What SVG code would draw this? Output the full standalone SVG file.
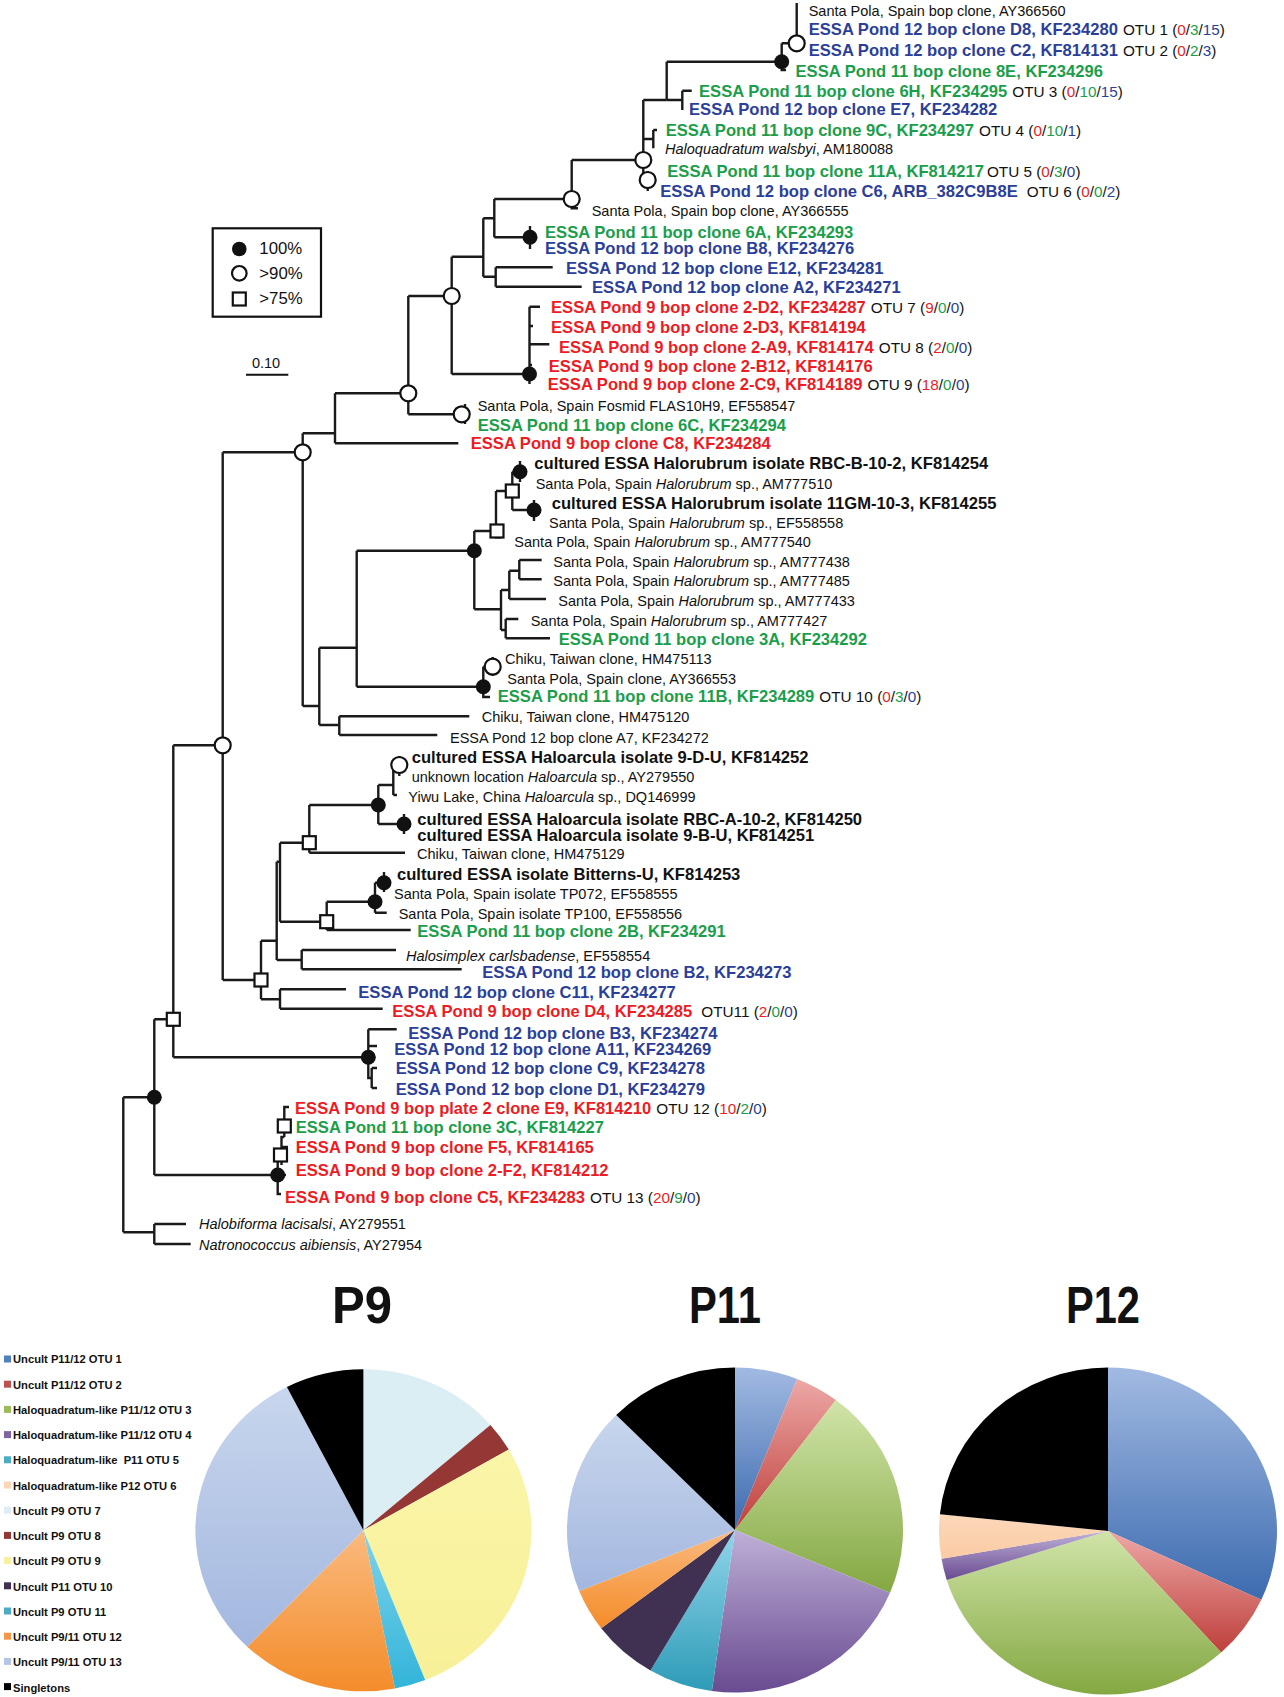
<svg xmlns="http://www.w3.org/2000/svg" width="1284" height="1697" viewBox="0 0 1284 1697">
<style>
text{font-family:"Liberation Sans",Arial,Helvetica,sans-serif}
.L{font-weight:bold;font-size:16.6px}
.g{fill:#1B9E4B}.bu{fill:#2B3F9A}.rd{fill:#ED1C24}.k{fill:#111}
.n{font-size:14.5px;fill:#111}
.ot{font-weight:normal;font-size:15.3px;fill:#111}
.nr{fill:#ED1C24}.ng{fill:#1B9E4B}.nb{fill:#2B3F9A}
.br path{fill:none;stroke:#1a1a1a;stroke-width:2.4}
.fc{fill:#111}
.oc{fill:#fff;stroke:#111;stroke-width:2.2}
.sq{fill:#fff;stroke:#111;stroke-width:2.2}
.lg{font-size:16.8px;fill:#111}
.pl{font-weight:bold;font-size:11.2px;fill:#111}
.pt{font-weight:bold;font-size:51px;fill:#111;text-anchor:middle}
</style>
<defs>
<linearGradient id="c1" x1="0" y1="0" x2="0" y2="1"><stop offset="0" stop-color="#A2BAE2"/><stop offset="1" stop-color="#3C6BAF"/></linearGradient>
<linearGradient id="c2" x1="0" y1="0" x2="0" y2="1"><stop offset="0" stop-color="#EDA8A6"/><stop offset="1" stop-color="#BE3F3B"/></linearGradient>
<linearGradient id="c3" x1="0" y1="0" x2="0" y2="1"><stop offset="0" stop-color="#D0E4A8"/><stop offset="1" stop-color="#84A842"/></linearGradient>
<linearGradient id="c4" x1="0" y1="0" x2="0" y2="1"><stop offset="0" stop-color="#BEB0D7"/><stop offset="1" stop-color="#694B91"/></linearGradient>
<linearGradient id="c5" x1="0" y1="0" x2="0" y2="1"><stop offset="0" stop-color="#90D5EA"/><stop offset="1" stop-color="#2E9BB7"/></linearGradient>
<linearGradient id="c6" x1="0" y1="0" x2="0" y2="1"><stop offset="0" stop-color="#FCD8BA"/><stop offset="1" stop-color="#FACBA3"/></linearGradient>
<linearGradient id="c9" x1="0" y1="0" x2="0" y2="1"><stop offset="0" stop-color="#FAF5A8"/><stop offset="1" stop-color="#F8F098"/></linearGradient>
<linearGradient id="c11" x1="0" y1="0" x2="0" y2="1"><stop offset="0" stop-color="#7FD3EA"/><stop offset="1" stop-color="#33B4DA"/></linearGradient>
<linearGradient id="c12" x1="0" y1="0" x2="0" y2="1"><stop offset="0" stop-color="#FABA7E"/><stop offset="1" stop-color="#F48C2A"/></linearGradient>
<linearGradient id="c13" x1="0" y1="0" x2="0" y2="1"><stop offset="0" stop-color="#C8D6ED"/><stop offset="1" stop-color="#A3B7DF"/></linearGradient>
</defs>
<rect width="1284" height="1697" fill="#fff"/>

<g id="branches" class="br">
<path d="M123.3,1097.3V1232.3M123.3,1097.3H154.3M123.3,1232.3H154.3M154.3,1224V1244M154.3,1224H186M154.3,1244H190.7"/>
<path d="M154.3,1019.3V1175M154.3,1019.3H173.3M154.3,1175H277.7"/>
<path d="M277.7,1155V1194H281M277.7,1175H286M277.7,1155H281.5M281.5,1165V1137H284.3M281.5,1147H288M284.3,1137V1107H289M284.3,1127H291"/>
<path d="M173.3,745.3V1057.3M173.3,745.3H222.7M173.3,1057.3H368.3"/>
<path d="M368.3,1029.3V1078H371.7M371.7,1068V1088M371.7,1068H377M371.7,1088H377M368.3,1029.3H396.7M368.3,1046H377"/>
<path d="M222.7,452.3V980M222.7,452.3H302.7M222.7,980H261"/>
<path d="M261,940.7V999.3M261,940.7H276.7M261,999.3H280M280,989.3V1008.7M280,989.3H346M280,1008.7H382.7"/>
<path d="M276.7,861.7V960M276.7,861.7H280M276.7,960H301.7M301.7,950V969.3M301.7,950H396M301.7,969.3H461.7"/>
<path d="M280,842.7V921.7M280,842.7H309.3M280,921.7H326.7"/>
<path d="M309.3,805V852.7M309.3,805H378.3M309.3,852.7H405"/>
<path d="M378.3,785V824M378.3,785H393.3M393.3,767V795M393.3,767H399.3M393.3,795H397M399.3,756V776M378.3,824H404M404,814V834"/>
<path d="M326.7,901.7V930M326.7,901.7H375M326.7,930H410.7"/>
<path d="M375,882.7V912.7M375,882.7H384M375,912.7H386.7M384,872V892"/>
<path d="M302.7,433.3V706M302.7,433.3H335M302.7,706H319.3"/>
<path d="M319.3,647.7V725M319.3,647.7H356.7M319.3,725H339.3M339.3,716.3V735M339.3,716.3H469.3M339.3,735H437.3"/>
<path d="M356.7,550.7V686.7M356.7,550.7H474.3M356.7,686.7H483.3"/>
<path d="M474.3,531V609.3M474.3,531H496M474.3,609.3H501"/>
<path d="M496,491V537.3H501.7M496,491H512.3M512.3,471.7V510M512.3,471.7H520M512.3,510H534M520,461V482M534,500V521"/>
<path d="M501,590V630M501,590H509.3M509.3,570.7V599M509.3,570.7H519.3M519.3,560V579.3M519.3,560H541.7M519.3,579.3H541.7M509.3,599H546M501,630H505.7M505.7,619V638.3M505.7,619H518.3M505.7,638.3H550"/>
<path d="M483.3,666.7V697H490M483.3,666.7H492.7M492.7,657V676"/>
<path d="M335,393.3V443.3M335,393.3H408.3M335,443.3H458.3"/>
<path d="M408.3,296V414.3M408.3,296H451.7M408.3,414.3H461.7M465,404V424"/>
<path d="M451.7,256.7V374M451.7,256.7H483.3M451.7,374H528.3"/>
<path d="M529.5,306.7V384M529.5,306.7H540M529.5,344.3H549.3M529.5,326H533M529.5,365H532"/>
<path d="M483.3,218.3V276.7M483.3,218.3H494.3M483.3,276.7H495.7M495.7,267.3V286.7M495.7,267.3H552.7M495.7,286.7H581.7"/>
<path d="M494.3,199V237.3M494.3,199H571.7M494.3,237.3H530M530,226V249"/>
<path d="M571.7,160V208.3H578M571.7,160H643.3"/>
<path d="M643.3,100V180H647.7M643.3,100H666.7M643.3,139H653.3M653.3,130V148.3M653.3,130H657M647.7,171V191"/>
<path d="M666.7,61.7V100M666.7,61.7H781.7M666.7,100H682.3M682.3,90.7V110M682.3,90.7H691.7"/>
<path d="M781.7,43.3V70H786M781.7,43.3H796.7M796.7,3V52"/>
</g>

<g id="support-markers">
<g id="bs100" class="fc">
<circle cx="154.3" cy="1097.3" r="7.5"/><circle cx="277.7" cy="1175" r="7.5"/><circle cx="368.3" cy="1057.3" r="7.5"/>
<circle cx="378.3" cy="805" r="7.5"/><circle cx="404" cy="824" r="7.5"/><circle cx="375" cy="901.7" r="7.5"/>
<circle cx="384" cy="882.7" r="7.5"/><circle cx="474.3" cy="550.7" r="7.5"/><circle cx="520" cy="471.7" r="7.5"/>
<circle cx="534" cy="510" r="7.5"/><circle cx="483.3" cy="686.7" r="7.5"/><circle cx="529.5" cy="374" r="7.5"/>
<circle cx="530" cy="237.3" r="7.5"/><circle cx="781.7" cy="61.7" r="7.5"/>
</g>
<g id="bs90" class="oc">
<circle cx="222.7" cy="745.3" r="8"/><circle cx="302.7" cy="452.3" r="8"/><circle cx="408.3" cy="393.3" r="8"/>
<circle cx="451.7" cy="296" r="8"/><circle cx="461.7" cy="414.3" r="8"/><circle cx="571.7" cy="199" r="8"/>
<circle cx="643.3" cy="160" r="8"/><circle cx="647.7" cy="180" r="8"/><circle cx="796.7" cy="43.3" r="8"/>
<circle cx="492.7" cy="666.7" r="8"/><circle cx="399.3" cy="765" r="8"/>
</g>
<g id="bs75" class="sq">
<rect x="166.8" y="1012.8" width="13" height="13"/><rect x="254.5" y="973.5" width="13" height="13"/>
<rect x="302.8" y="836.2" width="13" height="13"/><rect x="320.2" y="915.2" width="13" height="13"/>
<rect x="490.5" y="524.5" width="13" height="13"/><rect x="505.8" y="484.5" width="13" height="13"/>
<rect x="274" y="1148.5" width="13" height="13"/><rect x="277.8" y="1119.5" width="13" height="13"/>
</g>
</g>

<g id="tree-legend">
<rect x="212.7" y="228.3" width="108.3" height="88.4" fill="none" stroke="#111" stroke-width="2.2"/>
<circle cx="239.3" cy="249" r="7.3" class="fc"/>
<circle cx="239.3" cy="273.3" r="7.3" class="oc"/>
<rect x="232.8" y="292.5" width="13" height="13" class="sq"/>
<text class="lg" x="259.3" y="253.5">100%</text>
<text class="lg" x="259.3" y="278.5">&gt;90%</text>
<text class="lg" x="259.3" y="303.7">&gt;75%</text>
</g>
<g id="scale-bar">
<text class="n" x="266" y="367.5" text-anchor="middle">0.10</text>
<path d="M246,374.7H288.3" stroke="#111" stroke-width="2"/>
</g>

<g id="leaves">
<g id="t1"><text class="n" x="808.7" y="16">Santa Pola, Spain bop clone, AY366560</text></g>
<g id="t2"><text class="L bu" x="808.7" y="35.2">ESSA Pond 12 bop clone D8, KF234280<tspan class="ot" dx="5">OTU 1 (<tspan class="nr">0</tspan>/<tspan class="ng">3</tspan>/<tspan class="nb">15</tspan>)</tspan></text></g>
<g id="t3"><text class="L bu" x="808.7" y="55.8">ESSA Pond 12 bop clone C2, KF814131<tspan class="ot" dx="5">OTU 2 (<tspan class="nr">0</tspan>/<tspan class="ng">2</tspan>/<tspan class="nb">3</tspan>)</tspan></text></g>
<g id="t4"><text class="L g" x="795.5" y="77">ESSA Pond 11 bop clone 8E, KF234296</text></g>
<g id="t5"><text class="L g" x="699" y="96.7">ESSA Pond 11 bop clone 6H, KF234295<tspan class="ot" dx="5">OTU 3 (<tspan class="nr">0</tspan>/<tspan class="ng">10</tspan>/<tspan class="nb">15</tspan>)</tspan></text></g>
<g id="t6"><text class="L bu" x="689" y="115.3">ESSA Pond 12 bop clone E7, KF234282</text></g>
<g id="t7"><text class="L g" x="665.7" y="136">ESSA Pond 11 bop clone 9C, KF234297<tspan class="ot" dx="5">OTU 4 (<tspan class="nr">0</tspan>/<tspan class="ng">10</tspan>/<tspan class="nb">1</tspan>)</tspan></text></g>
<g id="t8"><text class="n" x="665" y="154.2"><tspan font-style="italic">Haloquadratum walsbyi</tspan>, AM180088</text></g>
<g id="t9"><text class="L g" x="667.3" y="177">ESSA Pond 11 bop clone 11A, KF814217<tspan class="ot" dx="3">OTU 5 (<tspan class="nr">0</tspan>/<tspan class="ng">3</tspan>/<tspan class="nb">0</tspan>)</tspan></text></g>
<g id="t10"><text class="L bu" x="660.3" y="196.7">ESSA Pond 12 bop clone C6, ARB_382C9B8E<tspan class="ot" dx="9">OTU 6 (<tspan class="nr">0</tspan>/<tspan class="ng">0</tspan>/<tspan class="nb">2</tspan>)</tspan></text></g>
<g id="t11"><text class="n" x="591.7" y="216">Santa Pola, Spain bop clone, AY366555</text></g>
<g id="t12"><text class="L g" x="545" y="238.3">ESSA Pond 11 bop clone 6A, KF234293</text></g>
<g id="t13"><text class="L bu" x="545" y="254.3">ESSA Pond 12 bop clone B8, KF234276</text></g>
<g id="t14"><text class="L bu" x="566" y="274.3">ESSA Pond 12 bop clone E12, KF234281</text></g>
<g id="t15"><text class="L bu" x="592" y="293.3">ESSA Pond 12 bop clone A2, KF234271</text></g>
<g id="t16"><text class="L rd" x="551" y="313.3">ESSA Pond 9 bop clone 2-D2, KF234287<tspan class="ot" dx="5">OTU 7 (<tspan class="nr">9</tspan>/<tspan class="ng">0</tspan>/<tspan class="nb">0</tspan>)</tspan></text></g>
<g id="t17"><text class="L rd" x="551" y="333.3">ESSA Pond 9 bop clone 2-D3, KF814194</text></g>
<g id="t18"><text class="L rd" x="559" y="352.7">ESSA Pond 9 bop clone 2-A9, KF814174<tspan class="ot" dx="5">OTU 8 (<tspan class="nr">2</tspan>/<tspan class="ng">0</tspan>/<tspan class="nb">0</tspan>)</tspan></text></g>
<g id="t19"><text class="L rd" x="548.8" y="371.7">ESSA Pond 9 bop clone 2-B12, KF814176</text></g>
<g id="t20"><text class="L rd" x="547.7" y="390">ESSA Pond 9 bop clone 2-C9, KF814189<tspan class="ot" dx="5">OTU 9 (<tspan class="nr">18</tspan>/<tspan class="ng">0</tspan>/<tspan class="nb">0</tspan>)</tspan></text></g>
<g id="t21"><text class="n" x="477.7" y="411">Santa Pola, Spain Fosmid FLAS10H9, EF558547</text></g>
<g id="t22"><text class="L g" x="477.7" y="431">ESSA Pond 11 bop clone 6C, KF234294</text></g>
<g id="t23"><text class="L rd" x="470.7" y="448.7">ESSA Pond 9 bop clone C8, KF234284</text></g>
<g id="t24"><text class="L k" x="534.3" y="469.3">cultured ESSA Halorubrum isolate RBC-B-10-2, KF814254</text></g>
<g id="t25"><text class="n" x="535.7" y="488.5">Santa Pola, Spain <tspan font-style="italic">Halorubrum</tspan> sp., AM777510</text></g>
<g id="t26"><text class="L k" x="551.7" y="509">cultured ESSA Halorubrum isolate 11GM-10-3, KF814255</text></g>
<g id="t27"><text class="n" x="549" y="527.9">Santa Pola, Spain <tspan font-style="italic">Halorubrum</tspan> sp., EF558558</text></g>
<g id="t28"><text class="n" x="514.3" y="547.2">Santa Pola, Spain <tspan font-style="italic">Halorubrum</tspan> sp., AM777540</text></g>
<g id="t29"><text class="n" x="553.3" y="566.9">Santa Pola, Spain <tspan font-style="italic">Halorubrum</tspan> sp., AM777438</text></g>
<g id="t30"><text class="n" x="553.3" y="586.2">Santa Pola, Spain <tspan font-style="italic">Halorubrum</tspan> sp., AM777485</text></g>
<g id="t31"><text class="n" x="558.3" y="605.9">Santa Pola, Spain <tspan font-style="italic">Halorubrum</tspan> sp., AM777433</text></g>
<g id="t32"><text class="n" x="530.7" y="625.9">Santa Pola, Spain <tspan font-style="italic">Halorubrum</tspan> sp., AM777427</text></g>
<g id="t33"><text class="L g" x="558.7" y="645">ESSA Pond 11 bop clone 3A, KF234292</text></g>
<g id="t34"><text class="n" x="505" y="663.9">Chiku, Taiwan clone, HM475113</text></g>
<g id="t35"><text class="n" x="507.3" y="683.5">Santa Pola, Spain clone, AY366553</text></g>
<g id="t36"><text class="L g" x="497.7" y="702.3">ESSA Pond 11 bop clone 11B, KF234289<tspan class="ot" dx="5">OTU 10 (<tspan class="nr">0</tspan>/<tspan class="ng">3</tspan>/<tspan class="nb">0</tspan>)</tspan></text></g>
<g id="t37"><text class="n" x="481.7" y="721.9">Chiku, Taiwan clone, HM475120</text></g>
<g id="t38"><text class="n" x="450" y="742.5">ESSA Pond 12 bop clone A7, KF234272</text></g>
<g id="t39"><text class="L k" x="411.7" y="762.5">cultured ESSA Haloarcula isolate 9-D-U, KF814252</text></g>
<g id="t40"><text class="n" x="411.7" y="782.3">unknown location <tspan font-style="italic">Haloarcula</tspan> sp., AY279550</text></g>
<g id="t41"><text class="n" x="408.3" y="801.5">Yiwu Lake, China <tspan font-style="italic">Haloarcula</tspan> sp., DQ146999</text></g>
<g id="t42"><text class="L k" x="417.3" y="824.5">cultured ESSA Haloarcula isolate RBC-A-10-2, KF814250</text></g>
<g id="t43"><text class="L k" x="417.3" y="840.5">cultured ESSA Haloarcula isolate 9-B-U, KF814251</text></g>
<g id="t44"><text class="n" x="417" y="859.2">Chiku, Taiwan clone, HM475129</text></g>
<g id="t45"><text class="L k" x="397" y="880">cultured ESSA isolate Bitterns-U, KF814253</text></g>
<g id="t46"><text class="n" x="394" y="898.5">Santa Pola, Spain isolate TP072, EF558555</text></g>
<g id="t47"><text class="n" x="398.7" y="918.5">Santa Pola, Spain isolate TP100, EF558556</text></g>
<g id="t48"><text class="L g" x="417.3" y="936.7">ESSA Pond 11 bop clone 2B, KF234291</text></g>
<g id="t49"><text class="n" x="406" y="961.2"><tspan font-style="italic">Halosimplex carlsbadense</tspan>, EF558554</text></g>
<g id="t50"><text class="L bu" x="482.3" y="977.7">ESSA Pond 12 bop clone B2, KF234273</text></g>
<g id="t51"><text class="L bu" x="358.3" y="997.7">ESSA Pond 12 bop clone C11, KF234277</text></g>
<g id="t52"><text class="L rd" x="392.3" y="1017">ESSA Pond 9 bop clone D4, KF234285<tspan class="ot" dx="9">OTU11 (<tspan class="nr">2</tspan>/<tspan class="ng">0</tspan>/<tspan class="nb">0</tspan>)</tspan></text></g>
<g id="t53"><text class="L bu" x="408.3" y="1039.3">ESSA Pond 12 bop clone B3, KF234274</text></g>
<g id="t54"><text class="L bu" x="394.3" y="1055.3">ESSA Pond 12 bop clone A11, KF234269</text></g>
<g id="t55"><text class="L bu" x="395.7" y="1074.3">ESSA Pond 12 bop clone C9, KF234278</text></g>
<g id="t56"><text class="L bu" x="395.7" y="1094.7">ESSA Pond 12 bop clone D1, KF234279</text></g>
<g id="t57"><text class="L rd" x="295" y="1114.3">ESSA Pond 9 bop plate 2 clone E9, KF814210<tspan class="ot" dx="5">OTU 12 (<tspan class="nr">10</tspan>/<tspan class="ng">2</tspan>/<tspan class="nb">0</tspan>)</tspan></text></g>
<g id="t58"><text class="L g" x="295.7" y="1133.3">ESSA Pond 11 bop clone 3C, KF814227</text></g>
<g id="t59"><text class="L rd" x="295.7" y="1153.3">ESSA Pond 9 bop clone F5, KF814165</text></g>
<g id="t60"><text class="L rd" x="295.7" y="1176">ESSA Pond 9 bop clone 2-F2, KF814212</text></g>
<g id="t61"><text class="L rd" x="285" y="1202.7">ESSA Pond 9 bop clone C5, KF234283<tspan class="ot" dx="5">OTU 13 (<tspan class="nr">20</tspan>/<tspan class="ng">9</tspan>/<tspan class="nb">0</tspan>)</tspan></text></g>
<g id="t62"><text class="n" x="199" y="1229.2"><tspan font-style="italic">Halobiforma lacisalsi</tspan>, AY279551</text></g>
<g id="t63"><text class="n" x="199" y="1250.2"><tspan font-style="italic">Natronococcus aibiensis</tspan>, AY27954</text></g>
</g>

<g id="pie-titles">
<text class="pt" x="362" y="1323" textLength="60" lengthAdjust="spacingAndGlyphs">P9</text>
<text class="pt" x="725" y="1323" textLength="72" lengthAdjust="spacingAndGlyphs">P11</text>
<text class="pt" x="1103" y="1323" textLength="74" lengthAdjust="spacingAndGlyphs">P12</text>
</g>

<g id="pie-legend">
<rect x="4" y="1355.5" width="7" height="7" fill="#4F81BD"/><text class="pl" x="13" y="1363">Uncult P11/12 OTU 1</text>
<rect x="4" y="1380.7" width="7" height="7" fill="#C0504D"/><text class="pl" x="13" y="1388.5">Uncult P11/12 OTU 2</text>
<rect x="4" y="1405.9" width="7" height="7" fill="#9BBB59"/><text class="pl" x="13" y="1413.8">Haloquadratum-like P11/12 OTU 3</text>
<rect x="4" y="1431.1" width="7" height="7" fill="#8064A2"/><text class="pl" x="13" y="1439">Haloquadratum-like P11/12 OTU 4</text>
<rect x="4" y="1456.3" width="7" height="7" fill="#4BACC6"/><text class="pl" x="13" y="1464.3" xml:space="preserve">Haloquadratum-like  P11 OTU 5</text>
<rect x="4" y="1481.5" width="7" height="7" fill="#FCD5B5"/><text class="pl" x="13" y="1489.5">Haloquadratum-like P12 OTU 6</text>
<rect x="4" y="1506.7" width="7" height="7" fill="#DBEEF4"/><text class="pl" x="13" y="1514.7">Uncult P9 OTU 7</text>
<rect x="4" y="1531.9" width="7" height="7" fill="#953735"/><text class="pl" x="13" y="1540">Uncult P9 OTU 8</text>
<rect x="4" y="1557.1" width="7" height="7" fill="#F7F19C"/><text class="pl" x="13" y="1565.3">Uncult P9 OTU 9</text>
<rect x="4" y="1582.3" width="7" height="7" fill="#403152"/><text class="pl" x="13" y="1590.5">Uncult P11 OTU 10</text>
<rect x="4" y="1607.5" width="7" height="7" fill="#4BACC6"/><text class="pl" x="13" y="1615.5">Uncult P9 OTU 11</text>
<rect x="4" y="1632.7" width="7" height="7" fill="#F79646"/><text class="pl" x="13" y="1640.5">Uncult P9/11 OTU 12</text>
<rect x="4" y="1657.9" width="7" height="7" fill="#B3C6E7"/><text class="pl" x="13" y="1666">Uncult P9/11 OTU 13</text>
<rect x="4" y="1683.1" width="7" height="7" fill="#000"/><text class="pl" x="13" y="1691.5">Singletons</text>
</g>

<g id="pie-P9">
<path d="M363.4,1530.3L363.4,1369.3A168,161 0 0 1 490.4,1424.9Z" fill="#DBEEF4"/>
<path d="M363.4,1530.3L490.4,1424.9A168,161 0 0 1 508.8,1449.6Z" fill="#953735"/>
<path d="M363.4,1530.3L508.8,1449.6A168,161 0 0 1 425.2,1680Z" fill="url(#c9)"/>
<path d="M363.4,1530.3L425.2,1680A168,161 0 0 1 394.9,1688.5Z" fill="url(#c11)"/>
<path d="M363.4,1530.3L394.9,1688.5A168,161 0 0 1 247.3,1646.7Z" fill="url(#c12)"/>
<path d="M363.4,1530.3L247.3,1646.7A168,161 0 0 1 286.9,1387Z" fill="url(#c13)"/>
<path d="M363.4,1530.3L286.9,1387A168,161 0 0 1 363.4,1369.3Z" fill="#000"/>
</g>
<g id="pie-P11">
<path d="M735,1530L735,1367.5A168,162.5 0 0 1 797.1,1379Z" fill="url(#c1)"/>
<path d="M735,1530L797.1,1379A168,162.5 0 0 1 835.9,1400.1Z" fill="url(#c2)"/>
<path d="M735,1530L835.9,1400.1A168,162.5 0 0 1 890,1592.7Z" fill="url(#c3)"/>
<path d="M735,1530L890,1592.7A168,162.5 0 0 1 711.9,1691Z" fill="url(#c4)"/>
<path d="M735,1530L711.9,1691A168,162.5 0 0 1 650.5,1670.4Z" fill="url(#c5)"/>
<path d="M735,1530L650.5,1670.4A168,162.5 0 0 1 601.2,1628.2Z" fill="#403152"/>
<path d="M735,1530L601.2,1628.2A168,162.5 0 0 1 579.2,1590.9Z" fill="url(#c12)"/>
<path d="M735,1530L579.2,1590.9A168,162.5 0 0 1 616.2,1415.1Z" fill="url(#c13)"/>
<path d="M735,1530L616.2,1415.1A168,162.5 0 0 1 735,1367.5Z" fill="#000"/>
</g>
<g id="pie-P12">
<path d="M1108,1531L1108,1367.5A169,163.5 0 0 1 1261.3,1599.8Z" fill="url(#c1)"/>
<path d="M1108,1531L1261.3,1599.8A169,163.5 0 0 1 1221.1,1652.5Z" fill="url(#c2)"/>
<path d="M1108,1531L1221.1,1652.5A169,163.5 0 0 1 946.7,1579.9Z" fill="url(#c3)"/>
<path d="M1108,1531L946.7,1579.9A169,163.5 0 0 1 941.5,1558.8Z" fill="url(#c4)"/>
<path d="M1108,1531L941.5,1558.8A169,163.5 0 0 1 939.9,1514.2Z" fill="url(#c6)"/>
<path d="M1108,1531L939.9,1514.2A169,163.5 0 0 1 1108,1367.5Z" fill="#000"/>
</g>
</svg>
